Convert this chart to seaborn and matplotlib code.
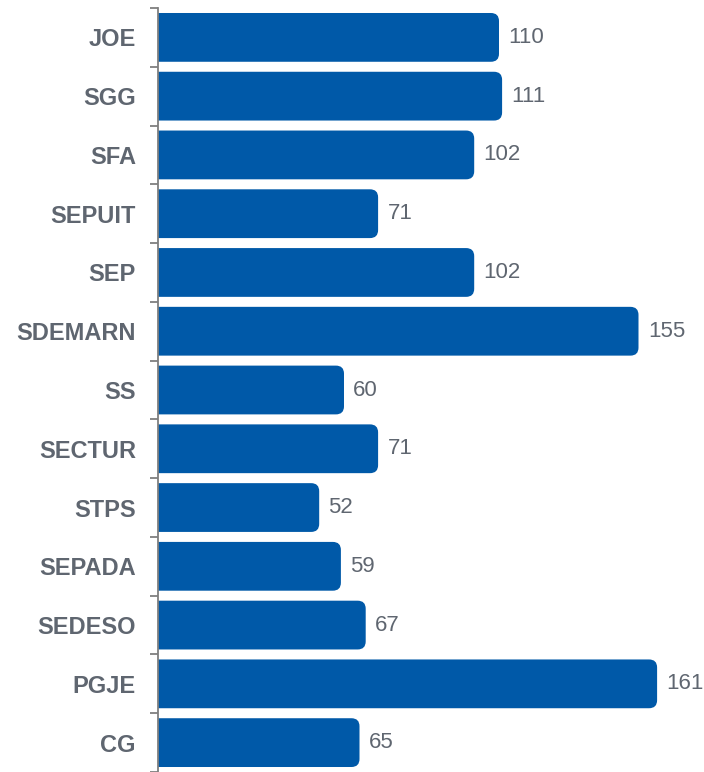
import numpy as np
import pandas as pd
import matplotlib.pyplot as plt
import seaborn as sns
from matplotlib.patches import FancyBboxPatch

categories = ['JOE', 'SGG', 'SFA', 'SEPUIT', 'SEP', 'SDEMARN', 'SS', 'SECTUR',
              'STPS', 'SEPADA', 'SEDESO', 'PGJE', 'CG']
values = [110, 111, 102, 71, 102, 155, 60, 71, 52, 59, 67, 161, 65]

df = pd.DataFrame({'dependencia': categories, 'total': values})

sns.set_style('white')
plt.rcParams['font.family'] = ['Liberation Sans', 'DejaVu Sans']

bar_color = '#0059A8'
text_gray = '#5F6670'

fig = plt.figure(figsize=(7.04, 7.72), dpi=100)
ax = fig.add_axes([158 / 704, 0.0, 1 - 158 / 704, 1 - 8 / 772])

sns.barplot(data=df, x='total', y='dependencia', orient='h', color=bar_color,
            width=0.83, saturation=1, ax=ax)
ax.set_xlim(0, (704 - 158) / 3.1)
ax.set_ylim(len(categories) - 0.5, -0.5)

# swap the plain bars for ones with rounded right corners
rs = 2.6
aspect = (1 / 59) / (1 / 3.1)
for p in list(ax.patches):
    x0, y0 = p.get_x(), p.get_y()
    w, h = p.get_width(), p.get_height()
    p.remove()
    ax.add_patch(FancyBboxPatch((x0 - 5, y0), w + 5, h,
                                boxstyle=f'round,pad=0,rounding_size={rs}',
                                mutation_aspect=aspect, facecolor=bar_color,
                                edgecolor='none'))

for i, v in enumerate(values):
    ax.text(v + 3, i, str(v), va='center', ha='left', fontsize=16, color=text_gray)

ax.set_xlabel('')
ax.set_ylabel('')
ax.set_xticks([])
ax.set_yticks(np.arange(len(categories) + 1) - 0.5, minor=True)
ax.tick_params(axis='y', which='major', left=False, length=0, pad=16)
ax.tick_params(axis='y', which='minor', left=True, length=6, width=1.3,
               color='#7F7F7F')
for lbl in ax.get_yticklabels():
    lbl.set_fontweight('bold')
    lbl.set_fontsize(17)
    lbl.set_color(text_gray)

for s in ['top', 'right', 'bottom']:
    ax.spines[s].set_visible(False)
ax.spines['left'].set_color('#7F7F7F')
ax.spines['left'].set_linewidth(1.3)

fig.savefig('out.png', dpi=100)
